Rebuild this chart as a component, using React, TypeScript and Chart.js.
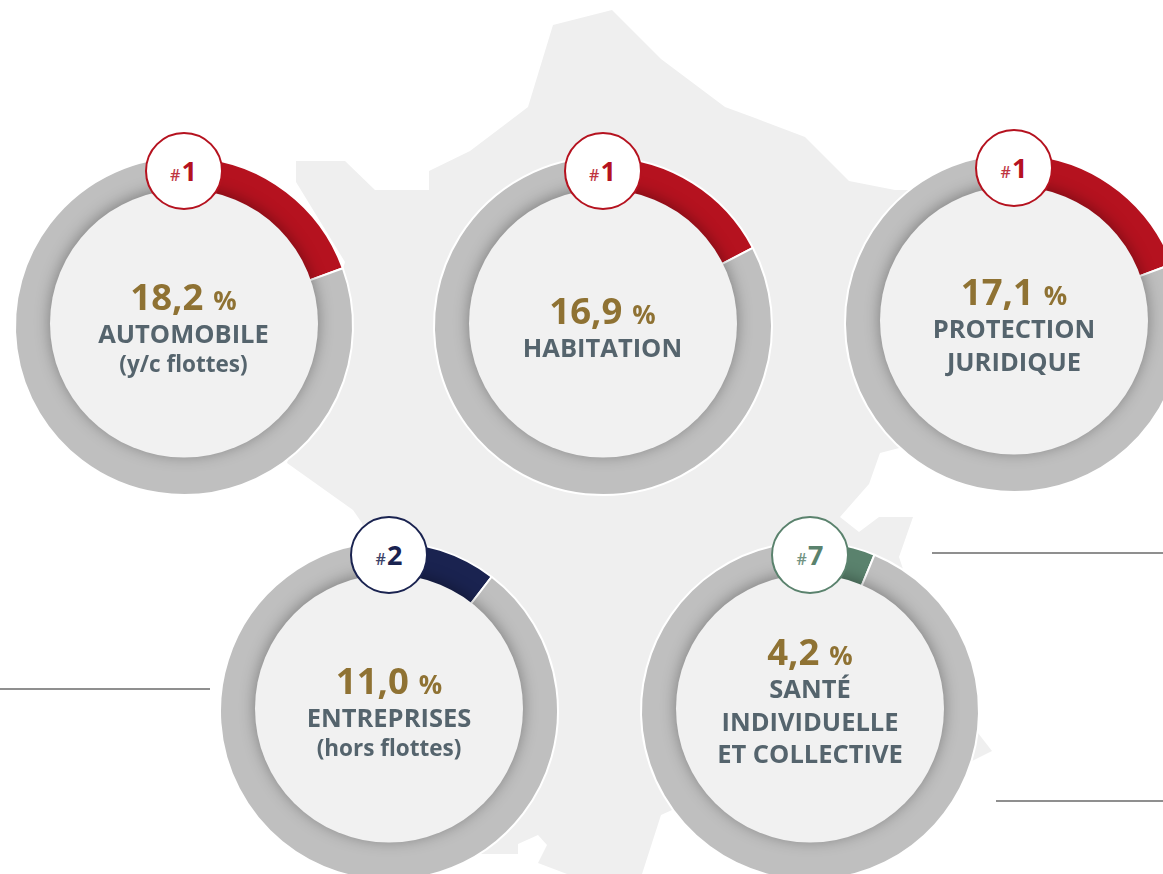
import React, { useEffect, useRef } from "react";
import { Chart, registerables } from "chart.js";

Chart.register(...registerables);

// ---- data ----
const shares = [18.2, 16.9, 17.1, 11.0, 4.2];
const shareLabels = ["18,2", "16,9", "17,1", "11,0", "4,2"];
const ranks = [1, 1, 1, 2, 7];
const titles = [
  ["AUTOMOBILE"],
  ["HABITATION"],
  ["PROTECTION", "JURIDIQUE"],
  ["ENTREPRISES"],
  ["SANTÉ", "INDIVIDUELLE", "ET COLLECTIVE"],
];
const subtitles = ["(y/c flottes)", "", "", "(hors flottes)", ""];

// ---- layout / style ----
const W = 1163;
const H = 874;
const FONT = '"Open Sans", sans-serif';
const centersX = [183.5, 602.5, 1014, 389, 810];
const centersY = [326, 326, 323, 711, 711];
const rotations = [4.5, 1.6, 8, -2.2, 7.3];
const accent = ["#b5121f", "#b5121f", "#b5121f", "#1a2350", "#5a826d"];
const valueBaselines = [310, 324, 305, 694, 665];
const badgeCY = [171, 171, 168, 555, 555];
const OUTER = 169;
const INNER = 134;
const DISC_SHIFT = -2.5;
const CANVAS = 350;
const GOLD = "#8f7233";
const SLATE = "#55646d";
const mapPoints =
  "612,10 661,59 725,107 755,118 805,137 849,181 895,190 930,190 930,440 880,453 869,484 840,517 859,532 879,517 913,517 899,557 905,575 978,733 992,751 970,762 900,800 672,810 661,815 642,874 567,874 538,863 547,845 538,835 518,844 518,854 477,854 400,700 362,523 353,510 287,463 300,420 345,262 296,182 296,161 345,161 375,190 429,190 429,171 470,151 528,107 553,25";
const rules = [
  [932, 553, 231],
  [0, 689, 210],
  [996, 801, 167],
];

function Donut({ index }: { index: number }) {
  const ref = useRef<HTMLCanvasElement>(null);
  useEffect(() => {
    const discPlugin = {
      id: "disc",
      afterDatasetsDraw(chart: any) {
        const { ctx } = chart;
        const c = CANVAS / 2;
        ctx.save();
        ctx.shadowColor = "rgba(0,0,0,0.34)";
        ctx.shadowBlur = 15;
        ctx.shadowOffsetY = -2;
        ctx.fillStyle = "#f1f1f1";
        ctx.beginPath();
        ctx.arc(c, c + DISC_SHIFT, INNER, 0, Math.PI * 2);
        ctx.fill();
        ctx.restore();
      },
    };
    const chart = new Chart(ref.current!, {
      type: "doughnut",
      data: {
        labels: ["Part", "Reste"],
        datasets: [
          {
            data: [shares[index], 100 - shares[index]],
            backgroundColor: [accent[index], "#bfbfbf"],
            borderColor: "#ffffff",
            borderWidth: 2,
          },
        ],
      },
      options: {
        responsive: false,
        animation: false,
        radius: OUTER,
        cutout: INNER - 4,
        rotation: rotations[index],
        layout: { padding: 0 },
        plugins: { legend: { display: false }, tooltip: { enabled: false } },
      } as any,
      plugins: [discPlugin],
    });
    return () => chart.destroy();
  }, [index]);
  return (
    <canvas
      ref={ref}
      width={CANVAS}
      height={CANVAS}
      style={{
        position: "absolute",
        left: centersX[index] - CANVAS / 2,
        top: centersY[index] - CANVAS / 2,
        width: CANVAS,
        height: CANVAS,
      }}
    />
  );
}

function Line({ cx, baseline, size, color, children }: any) {
  return (
    <div
      style={{
        position: "absolute",
        left: cx - 200,
        width: 400,
        top: baseline - 0.388 * size,
        height: 0,
        lineHeight: "0px",
        fontSize: size,
        color,
        fontFamily: FONT,
        fontWeight: 700,
        textAlign: "center",
        whiteSpace: "nowrap",
      }}
    >
      {children}
    </div>
  );
}

function Labels({ index }: { index: number }) {
  const cx = centersX[index];
  const base = valueBaselines[index];
  return (
    <>
      <Line cx={cx} baseline={base} size={36.5} color={GOLD}>
        {shareLabels[index]}
        <span style={{ fontSize: 26, marginLeft: 10 }}>%</span>
      </Line>
      {titles[index].map((t, i) => (
        <Line key={t} cx={cx} baseline={base + 33 + i * 32.5} size={25.5} color={SLATE}>
          {t}
        </Line>
      ))}
      {subtitles[index] && (
        <Line cx={cx} baseline={base + 63} size={22.5} color={SLATE}>
          {subtitles[index]}
        </Line>
      )}
    </>
  );
}

function Badge({ index }: { index: number }) {
  const cx = centersX[index];
  const cy = badgeCY[index];
  return (
    <>
      <div
        style={{
          position: "absolute",
          left: cx - 39,
          top: cy - 39,
          width: 78,
          height: 78,
          boxSizing: "border-box",
          borderRadius: "50%",
          background: "#ffffff",
          border: `2px solid ${accent[index]}`,
        }}
      />
      <Line cx={cx} baseline={cy + 10.5} size={27} color={accent[index]}>
        <span style={{ fontSize: 16, fontWeight: 600, opacity: 0.85, marginRight: 1 }}>#</span>
        {ranks[index]}
      </Line>
    </>
  );
}

export default function App() {
  return (
    <div
      style={{
        position: "fixed",
        left: 0,
        top: 0,
        width: W,
        height: H,
        overflow: "hidden",
        background: "#ffffff",
      }}
    >
      <svg width={W} height={H} style={{ position: "absolute", left: 0, top: 0 }}>
        <polygon points={mapPoints} fill="#efefef" />
      </svg>
      {rules.map(([x, y, w]) => (
        <div
          key={y}
          style={{ position: "absolute", left: x, top: y - 1, width: w, height: 2, background: "#8f8f8f" }}
        />
      ))}
      {shares.map((_, i) => (
        <Donut key={i} index={i} />
      ))}
      {shares.map((_, i) => (
        <React.Fragment key={i}>
          <Badge index={i} />
          <Labels index={i} />
        </React.Fragment>
      ))}
    </div>
  );
}
